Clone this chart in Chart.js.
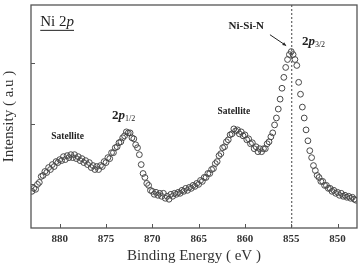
<!DOCTYPE html>
<html>
<head>
<meta charset="utf-8">
<script src="https://cdn.jsdelivr.net/npm/chart.js@4/dist/chart.umd.min.js"></script>
<style>
  html, body { margin: 0; padding: 0; background: #fff; }
  #wrap { width: 362px; height: 268px; position: relative; }
</style>
</head>
<body>
<div id="wrap"><canvas id="grafico"></canvas></div>
<script>
//energia de ligacao (eV)
const energias = [
  883.0, 882.8, 882.6, 882.4, 882.2, 882.0, 881.8, 881.6, 881.4, 881.2,
  881.0, 880.8, 880.6, 880.4, 880.2, 880.0, 879.8, 879.6, 879.4, 879.2,
  879.0, 878.8, 878.6, 878.4, 878.2, 878.0, 877.8, 877.6, 877.4, 877.2,
  877.0, 876.8, 876.6, 876.4, 876.2, 876.0, 875.8, 875.6, 875.4, 875.2,
  875.0, 874.8, 874.6, 874.4, 874.2, 874.0, 873.8, 873.6, 873.4, 873.2,
  873.0, 872.8, 872.6, 872.4, 872.2, 872.0, 871.8, 871.6, 871.4, 871.2,
  871.0, 870.8, 870.6, 870.4, 870.2, 870.0, 869.8, 869.6, 869.4, 869.2,
  869.0, 868.8, 868.6, 868.4, 868.2, 868.0, 867.8, 867.6, 867.4, 867.2,
  867.0, 866.8, 866.6, 866.4, 866.2, 866.0, 865.8, 865.6, 865.4, 865.2,
  865.0, 864.8, 864.6, 864.4, 864.2, 864.0, 863.8, 863.6, 863.4, 863.2,
  863.0, 862.8, 862.6, 862.4, 862.2, 862.0, 861.8, 861.6, 861.4, 861.2,
  861.0, 860.8, 860.6, 860.4, 860.2, 860.0, 859.8, 859.6, 859.4, 859.2,
  859.0, 858.8, 858.6, 858.4, 858.2, 858.0, 857.8, 857.6, 857.4, 857.2,
  857.0, 856.8, 856.6, 856.4, 856.2, 856.0, 855.8, 855.6, 855.4, 855.2,
  855.0, 854.8, 854.6, 854.4, 854.2, 854.0, 853.8, 853.6, 853.4, 853.2,
  853.0, 852.8, 852.6, 852.4, 852.2, 852.0, 851.8, 851.6, 851.4, 851.2,
  851.0, 850.8, 850.6, 850.4, 850.2, 850.0, 849.8, 849.6, 849.4, 849.2,
  849.0, 848.8, 848.6, 848.4, 848.2, 848.0
];

//intensidade (u.a.)
const intensidades = [
  37, 40, 39, 44, 46, 52, 53, 57, 56, 61,
  59, 64, 62, 67, 66, 69, 68, 72, 69, 73,
  71, 74, 71, 74, 70, 72, 68, 70, 66, 68,
  64, 66, 61, 63, 59, 62, 59, 63, 62, 67,
  66, 71, 70, 76, 76, 81, 82, 86, 87, 91,
  93, 97, 96, 96, 91, 90, 84, 81, 74, 64,
  55, 51, 45, 43, 38, 37, 34, 36, 33, 35,
  32, 35, 30, 32, 29, 34, 32, 35, 34, 36,
  35, 38, 37, 40, 38, 41, 40, 43, 42, 45,
  44, 48, 47, 51, 51, 55, 55, 59, 60, 65,
  67, 73, 75, 81, 82, 87, 89, 94, 95, 100,
  98, 99, 95, 97, 93, 94, 89, 90, 85, 86,
  80, 82, 77, 80, 77, 80, 80, 85, 87, 92,
  96, 104, 111, 120, 130, 141, 152, 162, 170, 175,
  178, 175, 170, 164, 147, 135, 122, 111, 99, 88,
  78, 71, 63, 58, 53, 51, 47, 47, 43, 43,
  40, 40, 37, 38, 35, 36, 33, 35, 32, 33,
  31, 32, 30, 31, 29, 28
];

//marcas dos eixos
const ticksX = [880, 875, 870, 865, 860, 855, 850];
const ticksY = [44, 105, 166];

//linha tracejada do pico 2p3/2
const posPico = 855;

//anotacoes (energia, intensidade)
const notas = [
  { partes: [["Satellite", "bold 9.5px"]], e: 879.15, i: 92, alinha: "center" },
  { partes: [["Satellite", "bold 9.5px"]], e: 861.2, i: 117, alinha: "center" },
  { partes: [["Ni-Si-N", "bold 11px"]], e: 859.85, i: 204, alinha: "center" },
  { partes: [["2", "bold 13px"], ["p", "bold italic 13px"], ["1/2", "8px", 3]], e: 874.35, i: 113, alinha: "left" },
  { partes: [["2", "bold 13px"], ["p", "bold italic 13px"], ["3/2", "8px", 3]], e: 853.85, i: 188, alinha: "left" },
  { partes: [["Ni 2", "15px"], ["p", "italic 15px"]], e: 882.1, i: 208, alinha: "left", sublinha: true }
];

//seta Ni-Si-N
const seta = { de: [857.3, 195], ate: [855.55, 184] };

const FONTE = "'Liberation Serif', 'DejaVu Serif', serif";

const pontos = energias.map((e, k) => ({ x: e, y: intensidades[k] }));

//desenha moldura, marcas internas, linha tracejada e textos
const extras = {
  id: "extras",
  afterDraw(chart) {
    const { ctx, chartArea: a, scales } = chart;
    const sx = scales.x, sy = scales.y;
    ctx.save();

    //linha tracejada
    const xp = sx.getPixelForValue(posPico);
    ctx.strokeStyle = "#444";
    ctx.lineWidth = 1;
    ctx.setLineDash([2, 2]);
    ctx.beginPath();
    ctx.moveTo(xp + 0.5, a.top);
    ctx.lineTo(xp + 0.5, a.bottom);
    ctx.stroke();
    ctx.setLineDash([]);

    //moldura
    ctx.strokeStyle = "#555";
    ctx.lineWidth = 1.3;
    ctx.strokeRect(a.left, a.top, a.right - a.left, a.bottom - a.top);

    //marcas para dentro
    ctx.lineWidth = 1;
    ctx.beginPath();
    ticksX.forEach(v => {
      const p = Math.round(sx.getPixelForValue(v)) + 0.5;
      ctx.moveTo(p, a.bottom);
      ctx.lineTo(p, a.bottom - 4);
    });
    ticksY.forEach(v => {
      const p = Math.round(sy.getPixelForValue(v)) + 0.5;
      ctx.moveTo(a.left, p);
      ctx.lineTo(a.left + 4, p);
    });
    ctx.stroke();

    //textos
    ctx.fillStyle = "#222";
    ctx.textBaseline = "middle";
    notas.forEach(n => {
      let largura = 0;
      n.partes.forEach(p => {
        ctx.font = p[1] + " " + FONTE;
        largura += ctx.measureText(p[0]).width;
      });
      let x = sx.getPixelForValue(n.e);
      const y = sy.getPixelForValue(n.i);
      if (n.alinha === "center") x -= largura / 2;
      const x0 = x;
      n.partes.forEach(p => {
        ctx.font = p[1] + " " + FONTE;
        ctx.textAlign = "left";
        ctx.fillText(p[0], x, y + (p[2] || 0));
        x += ctx.measureText(p[0]).width;
      });
      if (n.sublinha) {
        ctx.strokeStyle = "#222";
        ctx.lineWidth = 1;
        ctx.beginPath();
        ctx.moveTo(x0, y + 8.5);
        ctx.lineTo(x, y + 8.5);
        ctx.stroke();
      }
    });

    //seta
    const x1 = sx.getPixelForValue(seta.de[0]), y1 = sy.getPixelForValue(seta.de[1]);
    const x2 = sx.getPixelForValue(seta.ate[0]), y2 = sy.getPixelForValue(seta.ate[1]);
    ctx.strokeStyle = "#222";
    ctx.lineWidth = 1;
    ctx.beginPath();
    ctx.moveTo(x1, y1);
    ctx.lineTo(x2, y2);
    ctx.stroke();
    const ang = Math.atan2(y2 - y1, x2 - x1);
    ctx.beginPath();
    ctx.moveTo(x2, y2);
    ctx.lineTo(x2 - 4 * Math.cos(ang - 0.45), y2 - 4 * Math.sin(ang - 0.45));
    ctx.lineTo(x2 - 4 * Math.cos(ang + 0.45), y2 - 4 * Math.sin(ang + 0.45));
    ctx.closePath();
    ctx.fill();

    ctx.restore();
  }
};

const grafico = new Chart(document.getElementById("grafico"), {
  type: "scatter",
  data: {
    datasets: [{
      data: pontos,
      pointStyle: "circle",
      pointRadius: 2.9,
      pointBorderWidth: 1,
      pointBorderColor: "#484848",
      pointBackgroundColor: "rgba(255,255,255,0)",
      showLine: false
    }]
  },
  options: {
    responsive: true,
    maintainAspectRatio: false,
    animation: false,
    layout: { padding: { top: 3, right: 2, left: 0, bottom: 0 } },
    plugins: { legend: { display: false }, tooltip: { enabled: false } },
    scales: {
      x: {
        type: "linear",
        reverse: true,
        min: 847.9,
        max: 883.1,
        afterBuildTicks: (s) => { s.ticks = ticksX.map(v => ({ value: v })); },
        afterFit: (s) => { s.height = 40; },
        grid: { display: false, drawTicks: false },
        border: { display: false },
        ticks: {
          padding: 5,
          color: "#333",
          font: { family: FONTE, size: 11, weight: "bold" },
          maxRotation: 0
        },
        title: {
          display: true,
          text: "Binding Energy ( eV )",
          color: "#333",
          font: { family: FONTE, size: 15 },
          padding: { top: 0, bottom: 3 }
        }
      },
      y: {
        min: 0,
        max: 225,
        afterBuildTicks: (s) => { s.ticks = ticksY.map(v => ({ value: v })); },
        afterFit: (s) => { s.width = 31; },
        grid: { display: false, drawTicks: false },
        border: { display: false },
        ticks: { display: false },
        title: {
          display: true,
          text: "Intensity ( a.u )",
          color: "#333",
          font: { family: FONTE, size: 15 },
          padding: { top: 0, bottom: 0 }
        }
      }
    }
  },
  plugins: [extras]
});
</script>
</body>
</html>
